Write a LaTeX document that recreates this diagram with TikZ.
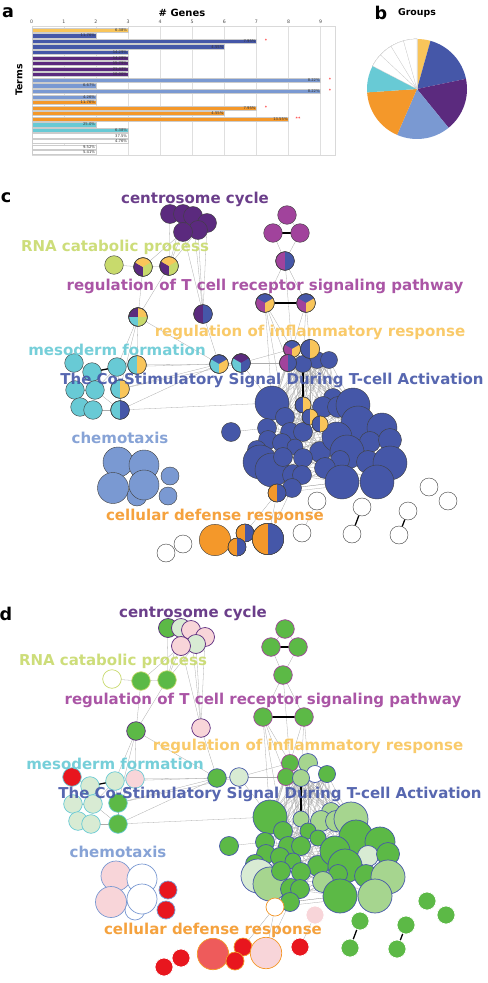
\documentclass[tikz,border=0pt]{standalone}
\usepackage{fontspec}
\setmainfont{DejaVu Sans}
\definecolor{grpyellow}{HTML}{F9C55A}
\definecolor{grpblue}{HTML}{4557A8}
\definecolor{grppurple}{HTML}{5B2A7E}
\definecolor{grplblue}{HTML}{7A99D2}
\definecolor{grporange}{HTML}{F4982A}
\definecolor{grpcyan}{HTML}{68CAD5}
\definecolor{grpmagenta}{HTML}{A1439C}
\definecolor{grplime}{HTML}{C8DA6C}
\definecolor{upgreen}{HTML}{5CB946}
\definecolor{midgreen}{HTML}{A6D58F}
\definecolor{palegreen}{HTML}{D8EBD3}
\definecolor{downred}{HTML}{E8161E}
\definecolor{salmon}{HTML}{EE5B5B}
\definecolor{palepink}{HTML}{F8D5D9}
\newcommand{\wedgefill}[5]{\fill[#5] (#1) -- ++(#3:#2) arc[start angle=#3, end angle=#4, radius=#2] -- cycle;}
\newcommand{\netlist}{%
cs1/170/214/9.5/grppurple/upgreen, cs2/183/214/9.5/grppurple/palegreen,
cs3/193/216/9.5/grppurple/palepink, cs4/207/223/9.5/grppurple/palepink,
cs6/198/230/9.5/grppurple/palegreen, cs5/183/232/9.5/grppurple/palepink,
rn1/114/265/9.3/grplime/white, rn2/143/267/9.3/grplime/upgreen, rn3/169/266/9.3/grplime/upgreen,
tc1/287/215/9.3/grpmagenta/upgreen, tc2/273/233/9.3/grpmagenta/upgreen, tc3/300/233/9.3/grpmagenta/upgreen,
tc4/285/261/9.3/grpmagenta/upgreen, tc5/265/303/9.3/grpmagenta/upgreen, tc6/306/303/9.3/grpmagenta/upgreen,
mx1/138/317/9.3/grppurple/upgreen, mx2/203/314/9.3/grppurple/palepink,
mp1/219/364/9.3/grpblue/upgreen, mp2/241/363/9.3/grpblue/palegreen,
cy1/74/363/9.3/grpcyan/downred, cy2/92/372/9.3/grpcyan/palegreen, cy3/117/367/9.3/grpcyan/palegreen,
cy4/137/365/9.3/grpcyan/palepink, cy5/75/390/9.3/grpcyan/palegreen, cy6/95/390/9.3/grpcyan/palegreen,
cy7/120/389/9.3/grpcyan/upgreen, cy8/80/407/9.3/grpcyan/palegreen, cy9/93/410/9.3/grpcyan/palegreen,
cy10/120/410/9.3/grpcyan/upgreen,
sb/231/432/9.5/grpblue/upgreen,
tg1/292/349/8.5/grpmagenta/upgreen, tg2/310/349/9.5/grpblue/midgreen, tg5/317/360/8.5/grpblue/white,
tg6/329/360/8.5/grpblue/upgreen, tg3/288/363/8.5/grpmagenta/upgreen, tg4/303/364/8.5/grpblue/midgreen,
bc1/272/403/17/grpblue/upgreen, bc2/285/417/9.5/grpblue/upgreen, bc9/333/398/9.5/grpblue/midgreen,
bc6/323/407/10.5/grpblue/midgreen, bc7/338/407/10.5/grpblue/midgreen, bc8/353/405/17/grpblue/midgreen,
bc3/303/405/8/grpblue/midgreen, bc4/310/417/8/grpblue/upgreen, bc5/320/424/8/grpblue/upgreen,
bc10/358/423/17/grpblue/upgreen, bc11/382/428/15/grpblue/upgreen, bc12/267/428/9.5/grpblue/upgreen,
bc13/290/432/9.5/grpblue/upgreen, bc14/303/432/9.5/grpblue/upgreen, bc15/268/440/9.5/grpblue/upgreen,
bc16/282/443/9.5/grpblue/upgreen, bc17/295/447/8/grpblue/upgreen, bc18/320/452/10.5/grpblue/upgreen,
bc19/337/437/15/grpblue/upgreen, bc20/370/442/10.5/grpblue/palegreen, bc21/390/440/11.5/grpblue/upgreen,
bc22/347/452/17/grpblue/upgreen, bc37/257/450/9.5/grpblue/upgreen, bc23/260/462/17/grpblue/palegreen,
bc24/272/470/17/grpblue/midgreen, bc25/283/457/9.5/grpblue/upgreen, bc26/303/458/9.5/grpblue/upgreen,
bc27/293/475/10.5/grpblue/upgreen, bc28/302/475/9.5/grpblue/upgreen, bc29/340/460/9.5/grpblue/upgreen,
bc30/325/468/10.5/grpblue/midgreen, bc34/368/462/11.5/grpblue/upgreen, bc31/342/482/17/grpblue/upgreen,
bc33/390/463/17/grpblue/midgreen, bc32/377/482/17/grpblue/midgreen, bc35/292/488/9.5/grpblue/upgreen,
bc36/277/493/9/grporange/white,
ch1/118/462/15/grplblue/palepink, ch2/144/465/15/grplblue/white, ch5/137/496/10/grplblue/white,
ch3/113/488/15.5/grplblue/palepink, ch4/144/485/15/grplblue/white,
ch6/170/476/9/grplblue/downred, ch7/168/496/9/grplblue/downred,
od1/215/540/15.7/grporange/salmon, od2/245/533/9/grporange/downred,
od3/237/547/9/grporange/downred, od4/268/539/15.7/grporange/palepink,
w1/166/553/9/white/downred, w2/183/544/9/white/downred, w3/317/501/9/white/palepink,
w4/302/533/9/white/downred, w5/362/507/9/white/upgreen, w6/352/534/9/white/upgreen,
w7/408/511/9/white/upgreen, w8/399/535/9/white/upgreen, w9/429/487/9/white/upgreen,
w10/448/501/9/white/upgreen}
\newcommand{\edgelist}{%
cs1/rn3, cs2/rn3, cs5/rn3, cs5/rn2, cs6/rn3, cs3/mx2, cs4/mx2, cs6/mx2, cs5/mx2,
rn1/rn2, rn2/rn3, rn2/mx1, rn3/mx1, tc1/tc2, tc1/tc3, tc2/tc4, tc3/tc4, tc4/tc5, tc4/tc6,
tc4/tg1, tc5/tg1, tc5/tg3, tc5/bc1, tc5/bc2, tc6/tg2, tc6/tg1, tc6/tg4,
mx1/cy3, mx1/cy4, mx1/cy7, mx1/mp1, mx2/mp1, cy4/mp1, cy3/mp1, cy7/mp1, cy7/mp2,
cy10/mp1, cy10/bc1, mp1/mp2, mp1/tg3, mp2/tg1, mp2/tg3, mp2/tg4, mp2/bc1, sb/bc12,
bc36/od2, bc36/od4, bc35/od4, w3/w4, cy1/cy2, cy2/cy6, cy3/cy7, cy5/cy6, cy6/cy9,
cy7/cy10, cy4/cy7, cy3/cy6, cy8/cy9, cy9/cy10, cy6/cy10, ch1/ch2, ch3/ch4, ch2/ch4,
bc22/bc36, bc31/bc35}
\begin{document}
\begin{tikzpicture}[x=0.03cm, y=-0.03cm,
  edge/.style={draw=gray!65, line width=0.25pt},
  strong/.style={draw=black, line width=1.1pt},
  cline/.style={draw=black!75, line width=0.35pt},
  term/.style={font=\bfseries\fontsize{12.8}{14}\selectfont, inner sep=0pt, text opacity=0.9},
  panel/.style={font=\bfseries\fontsize{15}{16}\selectfont, inner sep=0pt},
  pct/.style={font=\fontsize{3.2}{3.5}\selectfont, anchor=east, inner sep=0.6pt, text=black!80},
  tick/.style={font=\fontsize{4}{4}\selectfont, text=black!70, inner sep=0pt},
  star/.style={font=\fontsize{4}{4}\selectfont, text=red, inner sep=0pt}]
\useasboundingbox (0,0) rectangle (488,983);
\fill[white] (0,0) rectangle (488,983);

\node[panel] (lab-a) at (8,13) {a};
\node[panel] (lab-b) at (381,13) {b};
\node[panel] (lab-c) at (6,198) {c};
\node[panel] (lab-d) at (6,614) {d};

\node[font=\bfseries\fontsize{8.5}{9}\selectfont] (genes) at (182,13) {\# Genes};
\node[font=\bfseries\fontsize{8}{8}\selectfont, rotate=90] (terms) at (19,80) {Terms};
\foreach \v in {0,...,9} {
  \draw[gray!25, line width=0.2pt] (31.7+\v*32.1,26) -- (31.7+\v*32.1,155);
  \node[tick] (tick\v) at (31.7+\v*32.1,22) {\v};
}
\draw[gray!30, line width=0.3pt] (31.7,26) rectangle (335,155);
\foreach \k/\g/\col/\lab in {1/3/grpyellow/6.38, 2/2/grpblue/11.76, 3/7/grpblue/7.95,
  4/6/grpblue/4.55, 5/3/grpblue/14.29, 6/3/grppurple/14.29, 7/3/grppurple/15.79,
  8/3/grppurple/21.43, 9/3/grppurple/10.00, 10/9/grplblue/8.22, 11/2/grplblue/6.67,
  12/9/grplblue/8.22, 13/2/grplblue/4.26, 14/2/grporange/11.76, 15/7/grporange/7.95,
  16/6/grporange/4.55, 17/8/grporange/13.55, 18/2/grpcyan/25.0, 19/3/grpcyan/6.38,
  20/3/white/37.5, 21/3/white/4.76, 22/2/white/9.52, 23/2/white/5.41} {
  \filldraw[fill=\col, draw=gray!40, line width=0.2pt]
    (31.7,30+\k*5.56-5.56-2.1) rectangle (31.7+\g*32.1,30+\k*5.56-5.56+2.1);
  \node[pct] (bar\k) at (31.7+\g*32.1,30+\k*5.56-5.56) {\lab\%};
}
\node[star] (star3) at (266,41.1) {*};
\node[star] (star10) at (330,80) {*};
\node[star] (star12) at (330,91.2) {*};
\node[star] (star15) at (266,107.8) {*};
\node[star] (star17) at (298,119) {**};

\node[font=\bfseries\fontsize{8}{8}\selectfont] (groups) at (417,13) {Groups};
\coordinate (pie) at (417,89);
\foreach \a/\b/\col in {270/285.65/grpyellow, 285.65/348.26/grpblue, 348.26/410.87/grppurple,
  410.87/473.48/grplblue, 473.48/536.09/grporange, 536.09/567.39/grpcyan}
  \wedgefill{pie}{50}{\a}{\b}{\col}
\foreach \a in {567.39,583.04,598.70,614.35}
  \filldraw[fill=white, draw=gray!40, line width=0.2pt] (pie) -- ++(\a:50) arc[start angle=\a, end angle=\a+15.65, radius=50] -- cycle;

\foreach \n/\x/\y/\r/\cc/\dc in \netlist {
  \coordinate (c\n) at (\x,\y);
  \coordinate (d\n) at (\x-2,\y+414);
}
\foreach \p in {c,d} {
  \foreach \a/\b in \edgelist
    \draw[edge] (\p\a) -- (\p\b);
  \foreach \t in {tg1,tg2,tg3,tg4,tg5,tg6}
    \foreach \b in {bc1,bc2,bc3,bc4,bc6,bc7,bc8,bc9,bc12,bc13,bc14}
      \draw[edge] (\p\t) -- (\p\b);
  \foreach \i in {1,...,37}
    \foreach \k in {4,9,15} {
      \pgfmathtruncatemacro\j{mod(\i+\k-1,37)+1}
      \draw[edge] (\p bc\i) -- (\p bc\j);
    }
  \foreach \a/\b in {tc2/tc3, tc5/tc6, cy2/cy3, w5/w6, w7/w8, tg4/bc3}
    \draw[strong] (\p\a) -- (\p\b);
}
\foreach \n/\x/\y/\r/\cc/\dc in \netlist {
  \filldraw[fill=\cc, cline] (c\n) circle[radius=\r];
  \filldraw[fill=\dc, draw=\cc, line width=0.6pt] (d\n) circle[radius=\r];
}
\foreach \n/\r/\a/\b/\col in {
  rn2/9.3/90/210/grppurple, rn2/9.3/210/330/grpyellow, rn2/9.3/330/450/grplime,
  rn3/9.3/90/210/grppurple, rn3/9.3/210/330/grpyellow, rn3/9.3/330/450/grplime,
  mx1/9.3/180/270/grppurple, mx1/9.3/270/360/grpyellow, mx1/9.3/90/180/grpcyan, mx1/9.3/0/90/grplime,
  tc5/9.3/210/330/grpblue, tc5/9.3/90/210/grpmagenta, tc5/9.3/330/450/grpyellow,
  tc6/9.3/210/330/grpblue, tc6/9.3/90/210/grpmagenta, tc6/9.3/330/450/grpyellow,
  tg1/8.5/210/330/grpblue, tg1/8.5/90/210/grpmagenta, tg1/8.5/330/450/grpyellow,
  mp1/9.3/210/330/grpblue, mp1/9.3/90/210/grpcyan, mp1/9.3/330/450/grpyellow,
  mp2/9.3/210/330/grppurple, mp2/9.3/90/210/grpcyan, mp2/9.3/330/450/grpblue,
  tc4/9.3/90/270/grpmagenta, tc4/9.3/270/450/grpblue,
  mx2/9.3/90/270/grppurple, mx2/9.3/270/450/grpblue,
  tg2/9.5/90/270/grpblue, tg2/9.5/270/450/grpyellow,
  tg3/8.5/90/270/grpmagenta, tg3/8.5/270/450/grpblue,
  cy4/9.3/90/270/grpcyan, cy4/9.3/270/450/grpyellow,
  cy7/9.3/90/270/grpcyan, cy7/9.3/270/450/grpyellow,
  cy10/9.3/90/270/grpcyan, cy10/9.3/270/450/grpblue,
  bc3/8/90/270/grpblue, bc3/8/270/450/grpyellow,
  bc4/8/90/270/grpblue, bc4/8/270/450/grpyellow,
  bc5/8/90/270/grpblue, bc5/8/270/450/grpyellow,
  bc36/9/90/270/grporange, bc36/9/270/450/grpblue,
  od2/9/90/270/grporange, od2/9/270/450/grpblue,
  od3/9/90/270/grporange, od3/9/270/450/grpblue,
  od4/15.7/90/270/grporange, od4/15.7/270/450/grpblue} {
  \wedgefill{c\n}{\r}{\a}{\b}{\col}
  \draw[cline] (c\n) circle[radius=\r];
}

\foreach \p/\dx/\dy in {c/0/0, d/-2/414} {
  \node[term, text=grppurple] (\p-centro) at (195+\dx,199+\dy) {centrosome cycle};
  \node[term, text=grplime] (\p-rna) at (115+\dx,247+\dy) {RNA catabolic process};
  \node[term, text=grpmagenta] (\p-tcell) at (265+\dx,286+\dy) {regulation of T cell receptor signaling pathway};
  \node[term, text=grpyellow] (\p-inflam) at (310+\dx,332+\dy) {regulation of inflammatory response};
  \node[term, text=grpcyan] (\p-meso) at (117+\dx,350+\dy) {mesoderm formation};
  \node[term, text=grpblue] (\p-costim) at (272+\dx,380+\dy) {The Co-Stimulatory Signal During T-cell Activation};
  \node[term, text=grplblue] (\p-chemo) at (120+\dx,438+\dy) {chemotaxis};
  \node[term, text=grporange] (\p-defense) at (215+\dx,516+\dy) {cellular defense response};
}
\end{tikzpicture}
\end{document}
